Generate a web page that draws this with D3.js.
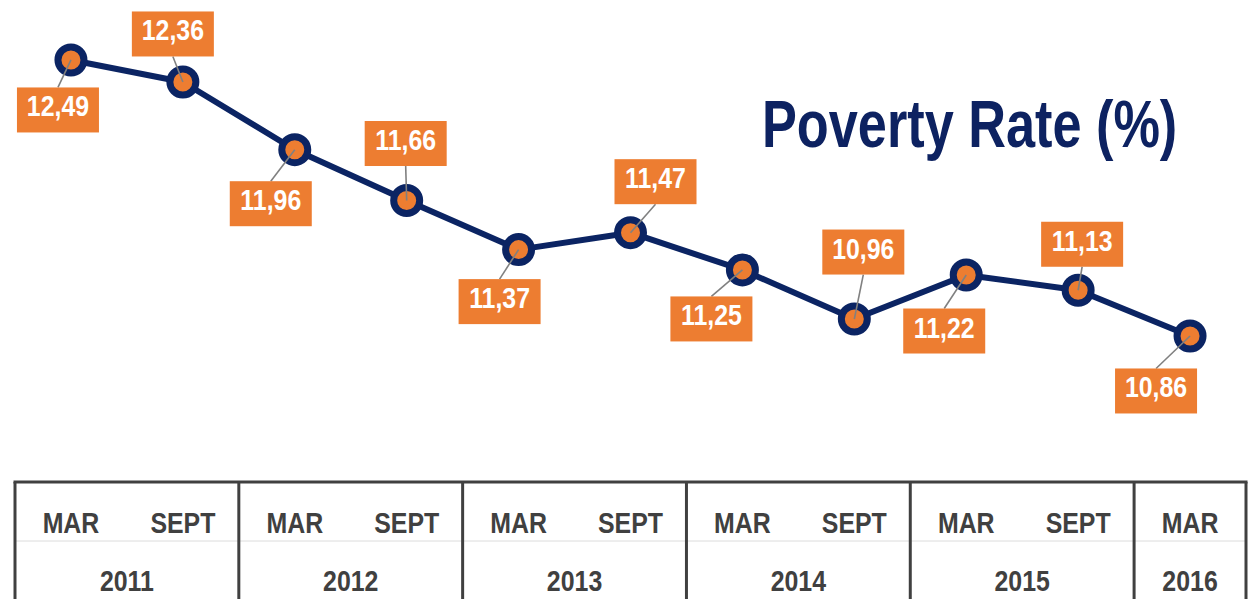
<!DOCTYPE html>
<html>
<head>
<meta charset="utf-8">
<script src="https://cdn.jsdelivr.net/npm/d3@7"></script>
<style>
  html, body { margin: 0; padding: 0; background: #ffffff; }
  svg { display: block; }
  text { font-family: "Liberation Sans", Arial, sans-serif; font-weight: bold; }
</style>
</head>
<body>
<svg id="chart" width="1255" height="599"></svg>
<script>
// ---- data ----
const periods = ["MAR", "SEPT", "MAR", "SEPT", "MAR", "SEPT", "MAR", "SEPT", "MAR", "SEPT", "MAR"];
const years = ["2011", "2011", "2012", "2012", "2013", "2013", "2014", "2014", "2015", "2015", "2016"];
const povertyRate = [12.49, 12.36, 11.96, 11.66, 11.37, 11.47, 11.25, 10.96, 11.22, 11.13, 10.86];
const valueLabels = ["12,49", "12,36", "11,96", "11,66", "11,37", "11,47", "11,25", "10,96", "11,22", "11,13", "10,86"];
const titleText = "Poverty Rate (%)";

// ---- layout (label box offsets from their point) ----
const labelOffsets = [[-13, 50], [-10, -48], [-24, 54], [-1, -57], [-19, 52], [25, -51],
                      [-31, 49], [9, -67], [-22, 56], [4, -46], [-34, 55]];

const svg = d3.select("#chart");
const navy = "#0B2463";
const orange = "#ED7D31";
const axisGray = "#404040";
const narrow = 0.83; // horizontal condensing to mimic a narrow face

const idx = d3.range(povertyRate.length);
const xBand = d3.scaleBand().domain(idx).range([15, 1246]).padding(0);
const x = i => xBand(i) + xBand.bandwidth() / 2;
const y = d3.scaleLinear().domain([10, 13]).range([481.6, -26.4]);

// title
svg.append("text")
  .attr("transform", "translate(762,147) scale(0.78,1)")
  .attr("font-size", 67)
  .attr("fill", "#0D2261")
  .text(titleText);

// line
const line = d3.line().x((d, i) => x(i)).y(d => y(d));
svg.append("path")
  .datum(povertyRate)
  .attr("d", line)
  .attr("fill", "none")
  .attr("stroke", navy)
  .attr("stroke-width", 6)
  .attr("stroke-linejoin", "round");

// points
svg.selectAll("circle.pt")
  .data(povertyRate)
  .join("circle")
  .attr("class", "pt")
  .attr("cx", (d, i) => x(i))
  .attr("cy", d => y(d))
  .attr("r", 13)
  .attr("fill", orange)
  .attr("stroke", navy)
  .attr("stroke-width", 7);

// labels
const bw = 82, bh = 45;
const labels = svg.selectAll("g.lbl")
  .data(povertyRate)
  .join("g")
  .attr("class", "lbl");

labels.append("line")
  .attr("x1", (d, i) => x(i))
  .attr("y1", d => y(d))
  .attr("x2", (d, i) => x(i) + labelOffsets[i][0])
  .attr("y2", (d, i) => y(d) + labelOffsets[i][1] + (labelOffsets[i][1] > 0 ? -bh / 2 : bh / 2))
  .attr("stroke", "#808080")
  .attr("stroke-width", 1.6);

labels.append("rect")
  .attr("x", (d, i) => x(i) + labelOffsets[i][0] - bw / 2)
  .attr("y", (d, i) => y(d) + labelOffsets[i][1] - bh / 2)
  .attr("width", bw)
  .attr("height", bh)
  .attr("fill", orange);

labels.append("text")
  .attr("transform", (d, i) => `translate(${x(i) + labelOffsets[i][0]},${y(d) + labelOffsets[i][1] - bh / 2 + 29}) scale(${narrow},1)`)
  .attr("text-anchor", "middle")
  .attr("font-size", 30)
  .attr("fill", "#ffffff")
  .text((d, i) => valueLabels[i]);

// ---- bottom category table axis ----
const axisTop = 482;
const axisG = svg.append("g");
axisG.append("line")
  .attr("x1", 15).attr("x2", 1246)
  .attr("y1", 541).attr("y2", 541)
  .attr("stroke", "#dcdcdc").attr("stroke-width", 1);
axisG.append("line")
  .attr("x1", 15 - 1.5).attr("x2", 1246 + 1.5)
  .attr("y1", axisTop).attr("y2", axisTop)
  .attr("stroke", axisGray).attr("stroke-width", 3);

const yearGroups = [];
years.forEach((yr, i) => {
  const last = yearGroups[yearGroups.length - 1];
  if (last && last.year === yr) last.end = i; else yearGroups.push({ year: yr, start: i, end: i });
});
const boundaries = [xBand(0)].concat(yearGroups.map(g => xBand(g.end) + xBand.bandwidth()));
axisG.selectAll("line.div")
  .data(boundaries)
  .join("line")
  .attr("class", "div")
  .attr("x1", d => d).attr("x2", d => d)
  .attr("y1", axisTop).attr("y2", 599)
  .attr("stroke", axisGray).attr("stroke-width", 3);

axisG.selectAll("text.per")
  .data(periods)
  .join("text")
  .attr("class", "per")
  .attr("transform", (d, i) => `translate(${x(i)},533) scale(${narrow},1)`)
  .attr("text-anchor", "middle")
  .attr("font-size", 30)
  .attr("fill", axisGray)
  .text(d => d);

axisG.selectAll("text.yr")
  .data(yearGroups)
  .join("text")
  .attr("class", "yr")
  .attr("transform", g => `translate(${(xBand(g.start) + xBand(g.end) + xBand.bandwidth()) / 2},591) scale(${narrow},1)`)
  .attr("text-anchor", "middle")
  .attr("font-size", 30)
  .attr("fill", axisGray)
  .text(g => g.year);
</script>
</body>
</html>
